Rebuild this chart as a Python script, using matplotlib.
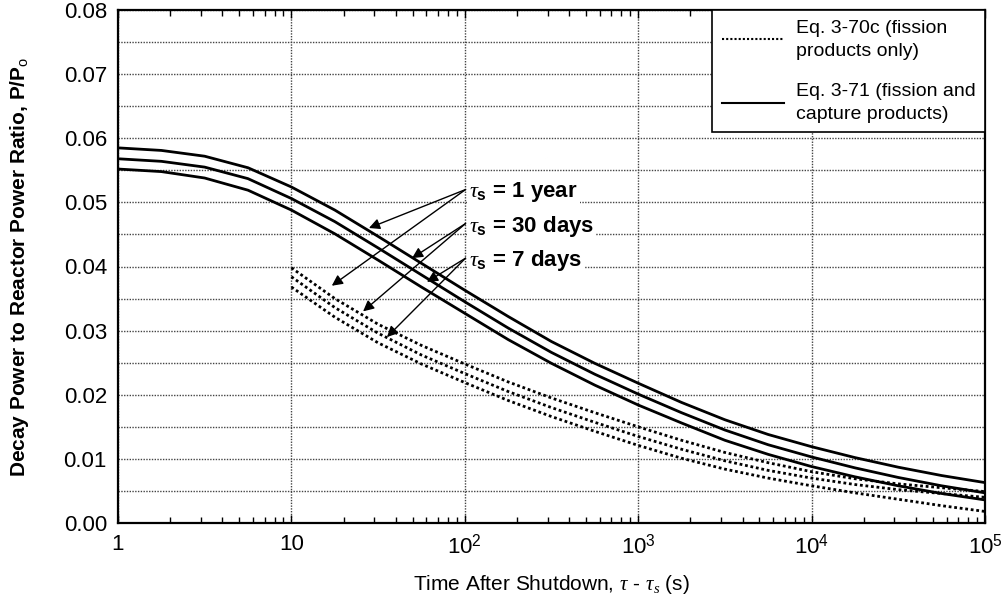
import numpy as np
import matplotlib
matplotlib.use("Agg")
import matplotlib.pyplot as plt
from matplotlib.lines import Line2D
from matplotlib.ticker import FixedLocator, NullFormatter, LogLocator

plt.rcParams['font.family'] = ['Liberation Sans', 'DejaVu Sans']
plt.rcParams['mathtext.fontset'] = 'custom'
plt.rcParams['mathtext.rm'] = 'Liberation Sans'
plt.rcParams['mathtext.it'] = 'Liberation Serif:italic'
plt.rcParams['mathtext.bf'] = 'Liberation Sans:bold'

# ---- data ----
t_solid = [1, 1.78, 3.16, 5.62, 10, 17.8, 31.6, 56.2, 100, 178, 316, 562,
           1000, 1778, 3162, 5623, 1e4, 17783, 31623, 56234, 1e5]
solid_1yr = [0.0585, 0.0581, 0.0572, 0.0554, 0.0524, 0.0488, 0.0447, 0.0405,
             0.0363, 0.0322, 0.0283, 0.0249, 0.0218, 0.0188, 0.0161, 0.0138,
             0.0119, 0.0102, 0.0087, 0.0074, 0.0063]
solid_30d = [0.0568, 0.0564, 0.0555, 0.0537, 0.0506, 0.0470, 0.0429, 0.0387,
             0.0345, 0.0304, 0.0266, 0.0232, 0.0201, 0.0172, 0.0145, 0.0122,
             0.0103, 0.0086, 0.0071, 0.0058, 0.0047]
solid_7d = [0.0552, 0.0548, 0.0538, 0.0519, 0.0488, 0.0451, 0.0410, 0.0368,
            0.0327, 0.0286, 0.0249, 0.0215, 0.0184, 0.0156, 0.0129, 0.0107,
            0.0088, 0.0072, 0.0058, 0.0046, 0.0036]

t_dot = [10, 17.8, 31.6, 56.2, 100, 178, 316, 562, 1000, 1778, 3162, 5623,
         1e4, 17783, 31623, 56234, 1e5]
dot_1yr = [0.0398, 0.0350, 0.0310, 0.0277, 0.0248, 0.0220, 0.0195, 0.0172,
           0.0150, 0.0129, 0.0110, 0.0094, 0.0080, 0.0069, 0.0061, 0.0055, 0.0049]
dot_30d = [0.0384, 0.0336, 0.0296, 0.0262, 0.0233, 0.0205, 0.0180, 0.0157,
           0.0135, 0.0115, 0.0097, 0.0082, 0.0070, 0.0060, 0.0052, 0.0046, 0.0040]
dot_7d = [0.0368, 0.0321, 0.0281, 0.0248, 0.0219, 0.0191, 0.0166, 0.0143,
          0.0121, 0.0101, 0.0084, 0.0070, 0.0058, 0.0047, 0.0037, 0.0027, 0.0018]

x_ticks = [1, 10, 100, 1000, 10000, 100000]
x_ticklabels = ['1', '10', '$10^2$', '$10^3$', '$10^4$', '$10^5$']
y_ticks = [0.00, 0.01, 0.02, 0.03, 0.04, 0.05, 0.06, 0.07, 0.08]

labels = [r'$\tau_\mathbf{s}$ = 1 year', r'$\tau_\mathbf{s}$ = 30 days', r'$\tau_\mathbf{s}$ = 7 days']
label_pos = [(106, 0.0516), (106, 0.0463), (106, 0.0410)]
arrow_tail = [(101, 0.0520), (101, 0.0467), (101, 0.0413)]
arrow_tips = [[(28.0, 0.0460), (17.1, 0.0370)],
              [(49.6, 0.0413), (25.9, 0.0330)],
              [(60.5, 0.0376), (35.6, 0.0290)]]

# ---- figure ----
fig = plt.figure(figsize=(10.03, 6.05), dpi=100)
ax = fig.add_axes([118/1003, 1-523/605, (985-118)/1003, (523-10)/605])
ax.set_xscale('log')
ax.set_xlim(1, 1e5)
ax.set_ylim(0, 0.08)

for ys in (solid_1yr, solid_30d, solid_7d):
    ax.plot(t_solid, ys, color='black', lw=2.0, solid_capstyle='butt', zorder=3)
for ys in (dot_1yr, dot_30d, dot_7d):
    ax.plot(t_dot, ys, color='black', lw=2.0, ls=(0, (1, 1)), zorder=3)

# grid
ax.set_yticks(y_ticks)
ax.set_yticklabels([f'{v:.2f}' for v in y_ticks])
ax.yaxis.set_minor_locator(FixedLocator(np.arange(0.005, 0.08, 0.01)))
ax.set_xticks(x_ticks)
ax.set_xticklabels(x_ticklabels)
ax.xaxis.set_minor_locator(LogLocator(base=10, subs=np.arange(2, 10)))
ax.xaxis.set_minor_formatter(NullFormatter())
ax.grid(True, which='major', axis='x', color='#444444', lw=1.0, ls=(0, (1, 1)))
ax.grid(True, which='both', axis='y', color='#444444', lw=1.0, ls=(0, (1, 1)))
ax.tick_params(which='both', direction='in', top=True, right=True, labelsize=16, pad=8)
ax.tick_params(which='major', length=6, width=1)
ax.tick_params(which='minor', length=4, width=1)
ax.tick_params(axis='y', which='both', length=0)
for s in ax.spines.values():
    s.set_linewidth(1.6)

# annotations
for lab, lp, tail, tips in zip(labels, label_pos, arrow_tail, arrow_tips):
    for tip in tips:
        ax.annotate('', xy=tip, xytext=tail,
                    arrowprops=dict(arrowstyle='-|>', color='black', lw=1.0,
                                    mutation_scale=16, shrinkA=0, shrinkB=0),
                    zorder=4)
    ax.text(lp[0], lp[1], lab, fontsize=16, fontweight='bold', va='center', ha='left',
            bbox=dict(facecolor='white', edgecolor='none', pad=1.5), zorder=5)

# legend
handles = [Line2D([], [], color='black', lw=1.5, ls=(0, (1, 1))),
           Line2D([], [], color='black', lw=1.5)]
leg = ax.legend(handles, ['Eq. 3-70c (fission\nproducts only)',
                          'Eq. 3-71 (fission and\ncapture products)'],
                loc='upper right', borderaxespad=0, fontsize=14, fancybox=False,
                framealpha=1, edgecolor='black', handlelength=3.2, handletextpad=0.6,
                labelspacing=1.2, borderpad=0.5)
for t in leg.get_texts():
    t.set_linespacing(1.45)
leg.get_frame().set_linewidth(1.2)
leg.set_zorder(6)

ax.set_xlabel(r'Time After Shutdown, $\tau$ - $\tau_s$ (s)', fontsize=15, labelpad=10)
ax.set_ylabel(r'Decay Power to Reactor Power Ratio, P/P$_\mathrm{o}$', fontsize=15,
              fontweight='bold')
ax.yaxis.set_label_coords(-0.1, 0.5)

fig.savefig('out.png', dpi=100)
